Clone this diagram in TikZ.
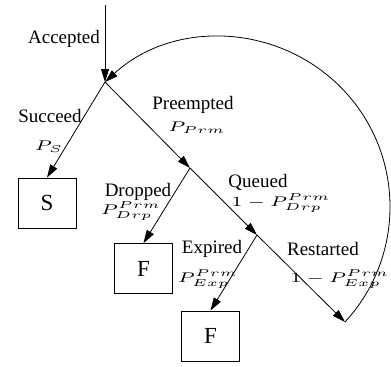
\documentclass[tikz,border=0pt]{standalone}
\usepackage{fontspec}
\setmainfont{Liberation Serif}
\usetikzlibrary{arrows.meta}
\newcommand{\pr}[1]{\scalebox{1.4}[1]{$#1$}}
\tikzset{state/.style={draw,minimum width=29pt,minimum height=25pt,inner sep=0pt,font=\fontsize{11.5}{13}\selectfont},
  lbl/.style={font=\fontsize{9.5}{11}\selectfont,inner sep=0pt},
  prob/.style={font=\fontsize{7.5}{9}\selectfont,inner sep=0pt},
  arr/.style={-{Triangle[length=6.5pt,width=4pt]}}}

\begin{document}
\begin{tikzpicture}[x=0.5pt,y=-0.5pt]
\useasboundingbox (0,0) rectangle (391,366);
\coordinate (top) at (105,5);
\coordinate (acc) at (105,82);
\coordinate (prm) at (190,168);
\coordinate (que) at (257,235);
\coordinate (rst) at (345,322);
\node[state] (succ) at (47,203) {S};
\node[state] (drop) at (143.5,268.5) {F};
\node[state] (expd) at (210.5,336) {F};
\draw[arr] (top) -- (acc);
\draw[arr] (acc) -- (succ.north);
\draw[arr] (acc) -- (prm);
\draw[arr] (prm) -- (drop.north);
\draw[arr] (prm) -- (que);
\draw[arr] (que) -- (expd.north);
\draw[arr] (que) -- (rst);
% restart loop back to the accepted point
\draw[arr] (rst) arc[start angle=-42.7,end angle=132.7,radius=84.9pt];
\node[lbl] (lacc) at (64,39) {Accepted};
\node[lbl] (lsucc) at (50,116) {Succeed};
\node[prob] (psucc) at (49,147) {\pr{P_S}};
\node[lbl] (lprm) at (193,105) {Preempted};
\node[prob] (pprm) at (197,128) {\pr{P_{Prm}}};
\node[lbl] (ldrop) at (138,192) {Dropped};
\node[prob] (pdrop) at (131,211) {\pr{P^{Prm}_{Drp}}};
\node[lbl] (lque) at (258,182) {Queued};
\node[prob] (pque) at (281,203) {\pr{1-P^{Prm}_{Drp}}};
\node[lbl] (lexp) at (212,249) {Expired};
\node[prob] (pexp) at (208,279) {\pr{P^{Prm}_{Exp}}};
\node[lbl] (lrst) at (323,249) {Restarted};
\node[prob,anchor=east] (prst) at (390,279) {\pr{1-P^{Prm}_{Exp}}};
\end{tikzpicture}
\end{document}
